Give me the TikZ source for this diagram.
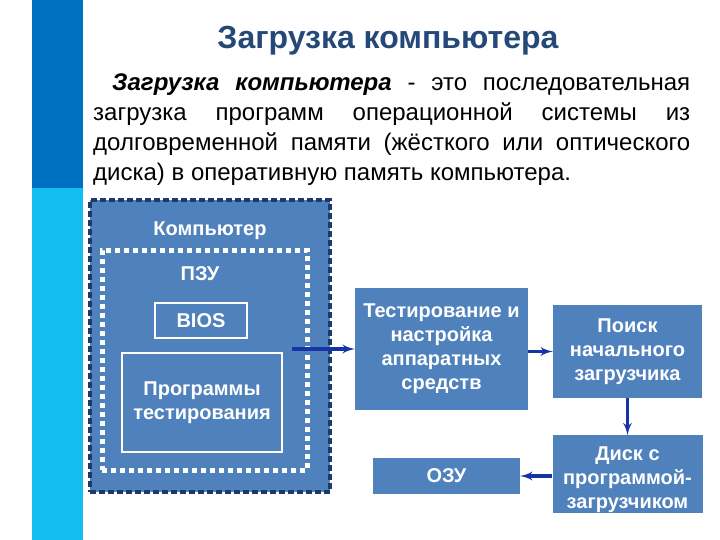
\documentclass[tikz,border=0pt]{standalone}
\usepackage{fontspec}
\setmainfont{Liberation Sans}
\usetikzlibrary{arrows,positioning,calc}

\definecolor{barDark}{RGB}{0,112,192}
\definecolor{barLight}{RGB}{20,190,240}
\definecolor{boxBlue}{RGB}{79,129,189}
\definecolor{titleBlue}{RGB}{36,72,120}
\definecolor{arrowBlue}{RGB}{22,52,165}
\definecolor{edgeNavy}{RGB}{30,58,105}

\tikzset{
    %Define standard arrow tip
    >=latex',
    %Define style for boxes
    blok/.style={
           rectangle,
           fill=boxBlue,
           text=white,
           font=\bfseries\fontsize{20}{24}\selectfont,
           align=center,
           inner sep=0pt},
    % Define style for the memory frames
    rahmen/.style={
           rectangle,
           line width=4pt,
           inner sep=0pt},
    % Define arrow style
    pil/.style={
           ->,
           line width=3.2pt,
           draw=arrowBlue}
}

\begin{document}
\begin{tikzpicture}[x=1pt,y=-1pt]
 \useasboundingbox (0,0) rectangle (720,540);
 %Side bars
 \fill[barDark] (32,0) rectangle (83,188);
 \fill[barLight] (32,188) rectangle (83,540);

 %Heading
 \node[text=titleBlue,font=\bfseries\fontsize{32}{36}\selectfont] (title) at (388,41) {Загрузка компьютера};
 \node[anchor=north west,text width=597pt,align=justify,inner sep=0pt,
       font=\fontsize{24}{30}\selectfont] (defn) at (93,74)
   {\hspace*{19pt}\textbf{\textit{Загрузка компьютера}} - это последовательная\linebreak загрузка программ операционной системы из\linebreak долговременной памяти (жёсткого или оптического\linebreak диска) в оперативную память компьютера.};

 %Computer with ROM
 \node[rahmen,fill=boxBlue,draw=edgeNavy,dash pattern=on 6pt off 3pt,
       minimum width=240pt,minimum height=292pt] (comp) at (210,346) {};
 \node[blok] (complabel) at (210,231) {Компьютер};
 \node[rahmen,draw=white,line width=5pt,dash pattern=on 5pt off 4pt,
       minimum width=205pt,minimum height=220pt] (pzu) at (204.5,360) {};
 \node[blok] (pzulabel) at (200,274) {ПЗУ};
 \node[blok,draw=white,line width=2.5pt,minimum width=92pt,minimum height=35pt] (bios) at (201,320.5) {BIOS};
 \node[blok,draw=white,line width=2.5pt,minimum width=160pt,minimum height=99pt] (prog) at (202,402.5) {Программы\\тестирования};
 \coordinate (start) at (292,349);

 %Boot steps
 \node[blok,minimum width=173pt,minimum height=122pt] (test) at (441.5,349) {Тестирование и\\настройка\\аппаратных\\средств};
 \node[blok,minimum width=149pt,minimum height=93pt] (poisk) at (627.5,351.5) {Поиск\\начального\\загрузчика};
 \node[blok,minimum width=150pt,minimum height=75pt,below=37pt of poisk] (disk) {\rule{0pt}{25pt}Диск с\\программой-\\загрузчиком};
 \node[blok,minimum width=147pt,minimum height=36pt] (ozu) at (446.5,476) {ОЗУ};

 \draw[pil] (start) -- (test.west);
 \draw[pil] (test.east |- poisk) -- (poisk.west);
 \draw[pil] (poisk.south) -- (disk.north);
 \draw[pil] (disk.west |- ozu) -- (ozu.east);
\end{tikzpicture}
\end{document}
